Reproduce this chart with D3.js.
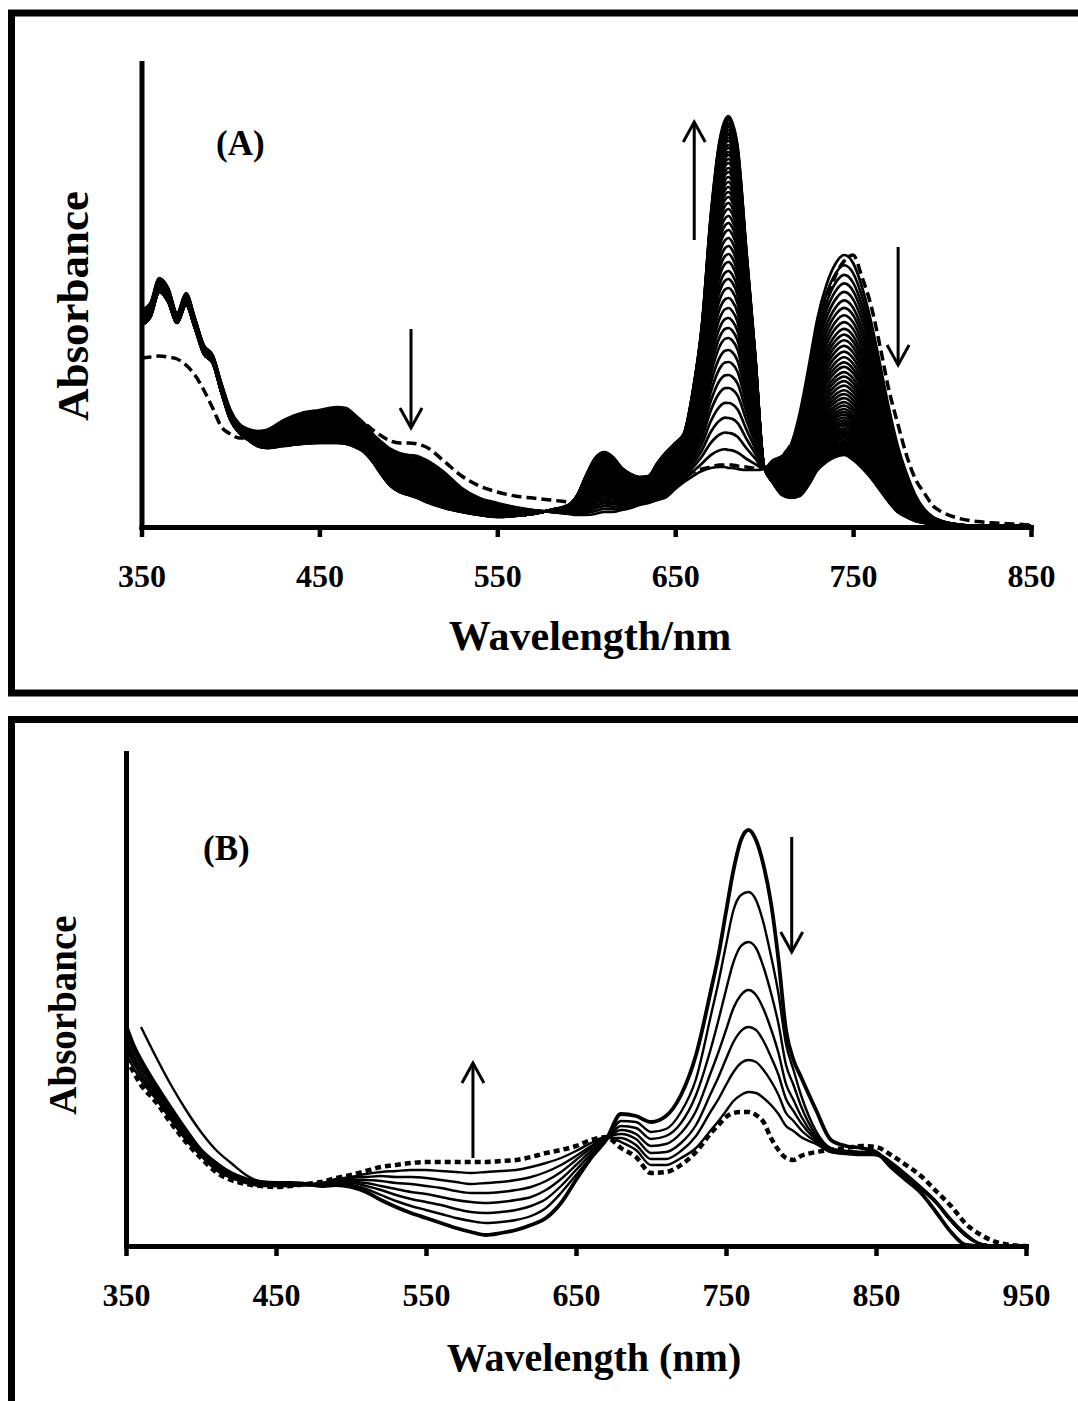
<!DOCTYPE html>
<html>
<head>
<meta charset="utf-8">
<script src="https://cdnjs.cloudflare.com/ajax/libs/d3/7.8.5/d3.min.js"></script>
<style>
body { margin: 0; background: #fff; }
</style>
</head>
<body>
<svg width="1078" height="1401"></svg>
<script>
// ---- panel A data (absorbance vs wavelength) ----
var wlA = [350,355,360,365,370,375,380,385,390,395,400,405,410,415,420,430,440,450,460,465,470,475,480,485,490,495,500,505,510,520,530,540,550,560,570,580,590,595,600,605,610,615,620,625,630,635,640,645,650,655,660,665,670,675,678,680,682,685,690,695,700,705,710,715,720,725,730,735,740,745,750,755,760,765,770,775,780,785,790,795,800,810,820,830,840,850];
// first solid spectrum of the titration
var firstA = [1.085,1.12,1.245,1.195,1.07,1.17,1.045,0.91,0.86,0.715,0.585,0.515,0.49,0.48,0.485,0.535,0.57,0.585,0.60,0.595,0.56,0.52,0.465,0.425,0.39,0.37,0.36,0.355,0.335,0.275,0.195,0.145,0.12,0.10,0.085,0.075,0.065,0.06,0.06,0.065,0.075,0.075,0.085,0.095,0.11,0.12,0.135,0.15,0.19,0.225,0.255,0.28,0.295,0.30,0.30,0.295,0.295,0.29,0.285,0.285,0.29,0.335,0.355,0.41,0.57,0.80,1.045,1.21,1.315,1.36,1.32,1.20,1.03,0.82,0.60,0.41,0.27,0.16,0.09,0.05,0.03,0.012,0.005,0.005,0.005,0.005];
// last solid spectrum
var lastA = [1.01,1.05,1.175,1.125,1.02,1.11,0.995,0.865,0.82,0.67,0.535,0.47,0.435,0.405,0.395,0.405,0.415,0.42,0.42,0.415,0.40,0.375,0.325,0.26,0.205,0.175,0.16,0.145,0.125,0.095,0.075,0.06,0.05,0.055,0.065,0.085,0.11,0.16,0.26,0.345,0.375,0.35,0.295,0.265,0.25,0.255,0.32,0.375,0.42,0.47,0.685,1.01,1.56,1.935,2.035,2.055,2.025,1.91,1.385,0.86,0.30,0.22,0.16,0.145,0.155,0.21,0.285,0.325,0.35,0.36,0.335,0.295,0.245,0.185,0.125,0.075,0.05,0.03,0.02,0.015,0.01,0.005,0.005,0.005,0.005,0.005];
// starting compound (dashed)
var dashA = [0.845,0.85,0.855,0.85,0.84,0.81,0.76,0.685,0.595,0.50,0.465,0.445,0.445,0.445,0.445,0.455,0.475,0.495,0.515,0.525,0.53,0.52,0.485,0.455,0.43,0.42,0.42,0.415,0.40,0.33,0.255,0.205,0.175,0.155,0.145,0.135,0.125,0.12,0.12,0.12,0.125,0.13,0.135,0.145,0.16,0.175,0.19,0.21,0.23,0.25,0.275,0.29,0.30,0.31,0.31,0.31,0.31,0.305,0.30,0.295,0.295,0.32,0.355,0.41,0.515,0.685,0.91,1.12,1.255,1.33,1.36,1.25,1.11,0.91,0.69,0.52,0.36,0.24,0.17,0.105,0.075,0.042,0.027,0.02,0.015,0.01];
// absorbance at 680 nm
var level680 = [0.295,0.385,0.47,0.545,0.62,0.695,0.76,0.825,0.885,0.945,0.995,1.045,1.095,1.145,1.195,1.24,1.28,1.325,1.365,1.405,1.445,1.485,1.52,1.555,1.59,1.62,1.65,1.675,1.70,1.725,1.75,1.775,1.795,1.82,1.84,1.86,1.875,1.895,1.91,1.93,1.945,1.96,1.97,1.985,2.00,2.01,2.02,2.035,2.045,2.055];
var ticksA = [350,450,550,650,750,850];

// ---- panel B data ----
var wlB = [350,355,360,370,380,390,400,410,420,430,440,450,460,470,480,490,500,510,520,530,540,550,560,570,580,590,600,610,620,630,640,650,660,670,680,690,700,710,720,730,740,745,750,755,760,765,770,775,780,785,790,795,800,810,820,830,840,850,860,870,880,890,900,910,920,930,940,950];
var bStart = [1.105,1.005,0.93,0.805,0.69,0.58,0.48,0.415,0.365,0.335,0.32,0.315,0.315,0.31,0.30,0.305,0.295,0.27,0.23,0.195,0.165,0.14,0.115,0.09,0.07,0.055,0.065,0.08,0.105,0.14,0.215,0.33,0.44,0.53,0.66,0.65,0.62,0.65,0.755,0.955,1.28,1.455,1.67,1.88,2.03,2.08,2.03,1.905,1.715,1.43,1.08,0.93,0.845,0.68,0.53,0.50,0.49,0.47,0.395,0.33,0.265,0.17,0.07,0.005,0,0,0,0];
var bStep1 = [null,null,1.095,0.945,0.805,0.68,0.57,0.48,0.415,0.355,0.32,0.31,0.31,0.305,0.30,0.31,0.305,0.285,0.255,0.225,0.20,0.18,0.16,0.14,0.125,0.115,0.12,0.13,0.15,0.19,0.265,0.355,0.445,0.525,0.625,0.62,0.57,0.585,0.67,0.835,1.155,1.32,1.505,1.68,1.755,1.77,1.73,1.615,1.45,1.26,1.01,0.88,0.755,0.575,0.49,0.475,0.47,0.465,0.42,0.36,0.295,0.225,0.135,0.06,0.01,0,0,0];
var bStep2 = [1.07,0.98,0.91,0.79,0.68,0.57,0.475,0.41,0.36,0.33,0.315,0.31,0.31,0.305,0.305,0.315,0.315,0.30,0.28,0.255,0.235,0.22,0.205,0.185,0.17,0.165,0.17,0.18,0.20,0.235,0.30,0.38,0.46,0.53,0.60,0.59,0.535,0.55,0.615,0.755,0.99,1.13,1.28,1.42,1.50,1.52,1.49,1.395,1.265,1.11,0.905,0.805,0.70,0.555,0.485,0.475,0.47,0.465,0.415,0.355,0.29,0.22,0.13,0.055,0.01,0,0,0];
var bStep3 = [1.04,0.955,0.89,0.775,0.665,0.56,0.47,0.40,0.355,0.325,0.31,0.305,0.305,0.305,0.305,0.32,0.32,0.315,0.30,0.285,0.27,0.26,0.245,0.23,0.22,0.215,0.22,0.23,0.245,0.28,0.335,0.405,0.475,0.535,0.58,0.56,0.50,0.51,0.565,0.675,0.87,0.97,1.08,1.19,1.255,1.28,1.255,1.185,1.085,0.965,0.81,0.73,0.65,0.54,0.48,0.47,0.465,0.46,0.415,0.355,0.29,0.22,0.13,0.055,0.01,0,0,0];
var bStep4 = [1.015,0.935,0.87,0.76,0.655,0.55,0.46,0.395,0.35,0.325,0.31,0.305,0.305,0.305,0.31,0.325,0.33,0.33,0.325,0.315,0.31,0.30,0.29,0.275,0.265,0.265,0.27,0.28,0.295,0.325,0.37,0.43,0.49,0.54,0.56,0.535,0.465,0.47,0.515,0.605,0.765,0.845,0.935,1.02,1.075,1.095,1.08,1.025,0.945,0.855,0.735,0.675,0.615,0.53,0.475,0.465,0.46,0.455,0.41,0.35,0.285,0.215,0.125,0.05,0.01,0,0,0];
var bStep5 = [0.99,0.915,0.85,0.745,0.64,0.54,0.455,0.385,0.345,0.32,0.305,0.30,0.30,0.305,0.31,0.33,0.34,0.345,0.35,0.345,0.345,0.34,0.33,0.32,0.31,0.315,0.32,0.33,0.345,0.37,0.405,0.45,0.50,0.54,0.54,0.505,0.435,0.435,0.475,0.55,0.675,0.735,0.805,0.87,0.915,0.93,0.92,0.88,0.825,0.755,0.665,0.625,0.58,0.52,0.47,0.465,0.46,0.455,0.41,0.35,0.285,0.215,0.125,0.05,0.01,0,0,0];
var bStep6 = [0.965,0.89,0.83,0.735,0.63,0.53,0.45,0.38,0.34,0.315,0.30,0.30,0.30,0.31,0.315,0.335,0.345,0.36,0.37,0.375,0.38,0.38,0.375,0.37,0.365,0.37,0.375,0.38,0.395,0.415,0.44,0.475,0.515,0.545,0.52,0.48,0.405,0.405,0.44,0.49,0.58,0.625,0.675,0.725,0.755,0.77,0.765,0.74,0.705,0.66,0.60,0.575,0.545,0.51,0.47,0.46,0.455,0.455,0.41,0.35,0.285,0.215,0.125,0.05,0.01,0,0,0];
var bEnd = [0.94,0.87,0.805,0.72,0.615,0.52,0.44,0.37,0.33,0.31,0.30,0.295,0.30,0.31,0.32,0.34,0.355,0.375,0.395,0.405,0.415,0.42,0.42,0.42,0.42,0.42,0.425,0.43,0.445,0.465,0.48,0.50,0.53,0.545,0.49,0.445,0.365,0.37,0.405,0.47,0.565,0.605,0.645,0.665,0.67,0.67,0.655,0.62,0.54,0.48,0.44,0.43,0.45,0.47,0.48,0.49,0.50,0.495,0.455,0.405,0.35,0.275,0.20,0.11,0.055,0.02,0.005,0];
var ticksB = [350,450,550,650,750,850,950];

var svg = d3.select("svg"),
	serif = "'Liberation Serif', 'Times New Roman', serif";

// frames round the two panels (right and bottom edges run off the page)
svg.append("rect").attr("x", 11.5).attr("y", 13).attr("width", 1100).attr("height", 680)
	.attr("fill", "none").attr("stroke", "#000").attr("stroke-width", 7);
svg.append("rect").attr("x", 11.5).attr("y", 719.5).attr("width", 1100).attr("height", 800)
	.attr("fill", "none").attr("stroke", "#000").attr("stroke-width", 7);

var xA = d3.scaleLinear().domain([350, 850]).range([141.5, 1031]),
	yA = d3.scaleLinear().domain([0, 2.32]).range([527, 63]),
	xB = d3.scaleLinear().domain([350, 950]).range([126, 1026]),
	yB = d3.scaleLinear().domain([0, 2.465]).range([1246, 753]);

function axes(x, y, ticks) {
	var gx = svg.append("g")
		.attr("transform", "translate(0," + y.range()[0] + ")")
		.call(d3.axisBottom(x).tickValues(ticks).tickSize(10).tickSizeOuter(0).tickPadding(27));
	gx.select(".domain").attr("stroke-width", 5).attr("stroke-linecap", "square");
	gx.selectAll(".tick line").attr("stroke-width", 4.5);
	gx.selectAll(".tick text")
		.attr("font-family", serif)
		.attr("font-size", 32)
		.attr("font-weight", "bold");

	var gy = svg.append("g")
		.attr("transform", "translate(" + x.range()[0] + ",0)")
		.call(d3.axisLeft(y).tickValues([]).tickSizeOuter(0));
	gy.select(".domain").attr("stroke-width", 5).attr("stroke-linecap", "square");
}

function arrow(x, y, a) {
	var px = x(a.w), y0 = y(a.from), y1 = y(a.to),
		dir = y1 < y0 ? 1 : -1;
	svg.append("line")
		.attr("x1", px).attr("y1", y0).attr("x2", px).attr("y2", y1)
		.attr("stroke", "#000").attr("stroke-width", 3);
	svg.append("path")
		.attr("d", "M" + (px - 11) + "," + (y1 + dir * 20) + "L" + px + "," + y1 + "L" + (px + 11) + "," + (y1 + dir * 20))
		.attr("fill", "none").attr("stroke", "#000").attr("stroke-width", 3);
}

function label(txt, x, y, size, rotate, anchor) {
	svg.append("text")
		.attr("transform", "translate(" + x + "," + y + ")" + (rotate ? " rotate(-90)" : ""))
		.attr("text-anchor", anchor || "middle")
		.attr("font-family", serif)
		.attr("font-weight", "bold")
		.attr("font-size", size)
		.text(txt);
}

// ---------- panel A ----------
var lineA = d3.line()
	.x(function (d) { return xA(d[0]); })
	.y(function (d) { return yA(d[1]); })
	.curve(d3.curveMonotoneX);

var i680 = wlA.indexOf(680),
	a0 = firstA[i680],
	a1 = lastA[i680];

var gA = svg.append("g");
level680.forEach(function (a) {
	var f = (a - a0) / (a1 - a0);
	var pts = wlA.map(function (w, i) {
		return [w, firstA[i] + f * (lastA[i] - firstA[i])];
	});
	gA.append("path")
		.attr("d", lineA(pts))
		.attr("fill", "none")
		.attr("stroke", "#000")
		.attr("stroke-width", 2.7);
});

gA.append("path")
	.attr("d", lineA(wlA.map(function (w, i) { return [w, dashA[i]]; })))
	.attr("fill", "none")
	.attr("stroke", "#000")
	.attr("stroke-width", 3.5)
	.attr("stroke-dasharray", "10,5");

axes(xA, yA, ticksA);

[{w: 660.7, from: 1.435, to: 2.025},
 {w: 501.5, from: 0.99, to: 0.495},
 {w: 775.3, from: 1.40, to: 0.81}].forEach(function (a) { arrow(xA, yA, a); });

label("(A)", 216, 155, 35, false, "start");
label("Absorbance", 88, 306, 45, true);
label("Wavelength/nm", 590, 650, 42);

// ---------- panel B ----------
var lineB = d3.line()
	.defined(function (d) { return d[1] != null; })
	.x(function (d) { return xB(d[0]); })
	.y(function (d) { return yB(d[1]); })
	.curve(d3.curveMonotoneX);

var seriesB = [bStart, bStep1, bStep2, bStep3, bStep4, bStep5, bStep6, bEnd];
var gB = svg.append("g");
seriesB.forEach(function (s, k) {
	var p = gB.append("path")
		.attr("d", lineB(wlB.map(function (w, i) { return [w, s[i]]; })))
		.attr("fill", "none")
		.attr("stroke", "#000")
		.attr("stroke-width", k === 0 ? 3.8 : 2.4);
	if (k === seriesB.length - 1) {
		p.attr("stroke-width", 4.5).attr("stroke-dasharray", "6,4");
	}
});

axes(xB, yB, ticksB);

[{w: 581.3, from: 0.44, to: 0.915},
 {w: 793.8, from: 2.045, to: 1.47}].forEach(function (a) { arrow(xB, yB, a); });

label("(B)", 203, 860, 35, false, "start");
label("Absorbance", 76, 1015, 39, true);
label("Wavelength (nm)", 594, 1371, 40);
</script>
</body>
</html>
